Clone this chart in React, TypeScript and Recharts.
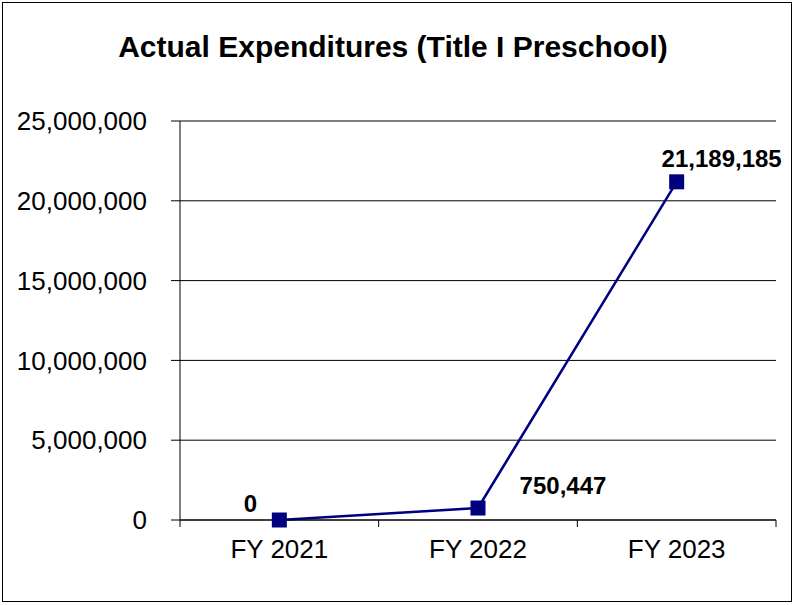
import React from "react";
import { LineChart, Line, XAxis, YAxis, CartesianGrid, LabelList } from "recharts";

const categories = ["FY 2021", "FY 2022", "FY 2023"];
const expenditures = [0, 750447, 21189185];
const yTicks = [0, 5000000, 10000000, 15000000, 20000000, 25000000];
const boundaryTicks = [0, 1, 2, 3];
const title = "Actual Expenditures (Title I Preschool)";

const labelOffsets = [
  { dx: -29, dy: -17 },
  { dx: 85, dy: -23 },
  { dx: 45, dy: -23 },
];

const data = categories.map((c, i) => ({ name: c, value: expenditures[i], idx: i + 0.5 }));

const fmt = (v: number) => v.toLocaleString("en-US");

const SquareDot = (props: any) => {
  const { cx, cy } = props;
  if (cx == null || cy == null) return null;
  const s = 15;
  return <rect x={cx - s / 2} y={cy - s / 2} width={s} height={s} fill="#000080" />;
};

const renderLabel = (props: any) => {
  const { x, y, value, index } = props;
  const off = labelOffsets[index] || { dx: 0, dy: -20 };
  return (
    <text
      x={x + off.dx}
      y={y + off.dy}
      textAnchor="middle"
      dominantBaseline="central"
      fontFamily="Liberation Sans, Arial, sans-serif"
      fontWeight="bold"
      fontSize={24}
      fill="#000"
    >
      {fmt(value)}
    </text>
  );
};

export default function App() {
  return (
    <div style={{ position: "absolute", left: 0, top: 0, width: 798, height: 605, background: "#fff" }}>
      <div
        style={{
          position: "absolute",
          left: 2,
          top: 2,
          width: 790,
          height: 600,
          border: "1px solid #000",
          boxSizing: "border-box",
        }}
      />
      <div
        style={{
          position: "absolute",
          left: 0,
          width: 786,
          top: 26,
          textAlign: "center",
          fontFamily: "Liberation Sans, Arial, sans-serif",
          fontWeight: "bold",
          fontSize: 30,
          lineHeight: "42px",
          color: "#000",
        }}
      >
        {title}
      </div>
      <div style={{ position: "absolute", left: 0, top: 0 }}>
        <LineChart
          width={798}
          height={605}
          data={data}
          margin={{ top: 121, right: 22, bottom: 25, left: 0 }}
        >
          <CartesianGrid vertical={false} stroke="#000" strokeWidth={1} xAxisId="b" />
          <XAxis
            xAxisId="a"
            type="number"
            dataKey="idx"
            domain={[0, 3]}
            ticks={boundaryTicks}
            tickFormatter={() => ""}
            tickSize={7}
            tickMargin={0}
            height={10}
            axisLine={{ stroke: "#000" }}
            tickLine={{ stroke: "#000" }}
          />
          <XAxis
            xAxisId="b"
            dataKey="name"
            type="category"
            scale="band"
            height={50}
            axisLine={false}
            tickLine={false}
            tickSize={0}
            tickMargin={10}
            tick={{ fill: "#000", fontSize: 26, fontFamily: "Liberation Sans, Arial, sans-serif" }}
          />
          <YAxis
            domain={[0, 25000000]}
            ticks={yTicks}
            width={180}
            tickSize={9}
            tickMargin={24}
            tickFormatter={fmt}
            axisLine={{ stroke: "#000" }}
            tickLine={{ stroke: "#000" }}
            tick={{ fill: "#000", fontSize: 26, fontFamily: "Liberation Sans, Arial, sans-serif" }}
          />
          <Line
            xAxisId="b"
            dataKey="value"
            stroke="#000080"
            strokeWidth={2.5}
            dot={<SquareDot />}
            activeDot={false}
            isAnimationActive={false}
          >
            <LabelList dataKey="value" content={renderLabel} />
          </Line>
        </LineChart>
      </div>
    </div>
  );
}
